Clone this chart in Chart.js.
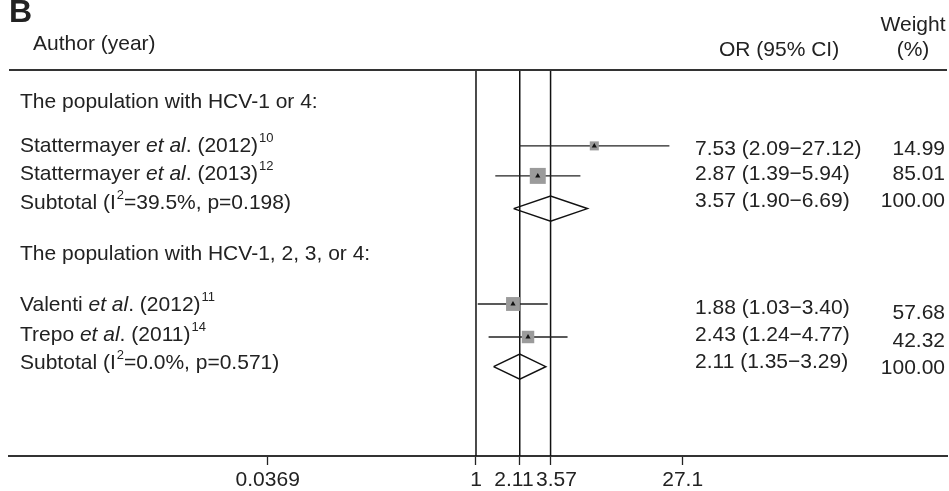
<!DOCTYPE html>
<html><head><meta charset="utf-8">
<script src="https://cdn.jsdelivr.net/npm/chart.js@4.4.0/dist/chart.umd.min.js"></script>
<style>html,body{margin:0;padding:0;background:#fff}#wrap{width:949px;height:491px}canvas{display:block}</style>
</head><body><div id="wrap"><canvas id="c" width="949" height="491"></canvas></div>
<script>
// ---------------- data ----------------
const panelLabel = 'B';
const groupTitles = ['The population with HCV-1 or 4:', 'The population with HCV-1, 2, 3, or 4:'];
const studyAuthors = ['Stattermayer', 'Stattermayer', 'Valenti', 'Trepo'];
const studyYears = ['2012', '2013', '2012', '2011'];
const studyRefs = ['10', '12', '11', '14'];
const studyOR = [7.53, 2.87, 1.88, 2.43];
const studyLower = [2.09, 1.39, 1.03, 1.24];
const studyUpper = [27.12, 5.94, 3.40, 4.77];
const studyWeight = [14.99, 85.01, 57.68, 42.32];
const subtotalI2 = ['39.5%', '0.0%'];
const subtotalP = ['0.198', '0.571'];
const subtotalOR = [3.57, 2.11];
const subtotalLower = [1.90, 1.35];
const subtotalUpper = [6.69, 3.29];
const subtotalWeight = [100.00, 100.00];
const refLines = [1, 2.11, 3.57];
const tickLabels = ['0.0369', '1', '2.11', '3.57', '27.1'];
const tickValues = [0.0286, 1, 2.11, 3.57, 34.0]; // where the reference places those labels on the OR scale

// ---------------- layout (row units, one unit = one text line) ----------------
const FONT = "'Liberation Sans', Arial, Helvetica, sans-serif";
const AREA_L = 9, AREA_R = 947;
const Y_MAX = 12.867;
const X_MIN = 3.46e-4, X_MAX = 3095;
const studyRow = [2.53, 3.53, 7.8, 8.9];
const subtotalRow = [4.62, 9.89];
const groupTitleTextRow = [1.03, 6.1];
const studyTextRow = [2.47, 3.43, 7.77, 8.77];
const subtotalTextRow = [4.4, 9.73];
const studyOrTextRow = [2.57, 3.43, 7.87, 8.8];
const subtotalOrTextRow = [4.33, 9.7];
const studyWtTextRow = [2.57, 3.43, 8.06, 8.97];
const subtotalWtTextRow = [4.33, 9.89];
const DIAMOND_H = 0.417;
const tickNudge = [0, 0, -2, 2, 0]; // label shift in spaces, to keep crowded labels apart

const boxSide = w => 4 + 1.3 * Math.sqrt(w);
const nudge = (t, n) => n < 0 ? t + ' '.repeat(-n) : ' '.repeat(n) + t;

const datasets = [];
datasets.push({type: 'scatter', data: studyOR.map((v, i) => ({x: v, y: studyRow[i]})),
  pointStyle: 'triangle', pointRadius: 3, backgroundColor: '#111', borderWidth: 0});
datasets.push({type: 'scatter', data: studyOR.map((v, i) => ({x: v, y: studyRow[i]})),
  pointStyle: 'rect', pointRadius: studyWeight.map(w => boxSide(w) / Math.SQRT2),
  backgroundColor: '#9b9b9b', borderWidth: 0});
studyOR.forEach((v, i) => datasets.push({type: 'line',
  data: [{x: studyLower[i], y: studyRow[i]}, {x: studyUpper[i], y: studyRow[i]}],
  borderColor: '#222', borderWidth: 1.3, pointRadius: 0, fill: false}));
subtotalOR.forEach((v, i) => {
  const r = subtotalRow[i];
  datasets.push({type: 'line', data: [
    {x: subtotalLower[i], y: r}, {x: v, y: r - DIAMOND_H}, {x: subtotalUpper[i], y: r},
    {x: v, y: r + DIAMOND_H}, {x: subtotalLower[i], y: r}],
    borderColor: '#111', borderWidth: 1.5, borderJoinStyle: 'miter', pointRadius: 0, fill: false, tension: 0});
});
refLines.forEach(v => datasets.push({type: 'line', data: [{x: v, y: 0}, {x: v, y: Y_MAX}],
  borderColor: '#111', borderWidth: 1.5, pointRadius: 0, fill: false}));

function drawRich(ctx, x, y, parts) {
  let cx = x;
  for (const p of parts) {
    let dy = 0;
    if (p.s === 'i') ctx.font = `italic 21px ${FONT}`;
    else if (p.s === 'sup') { ctx.font = `13px ${FONT}`; dy = -10; cx += 1; }
    else ctx.font = `21px ${FONT}`;
    ctx.fillText(p.t, cx, y + dy);
    cx += ctx.measureText(p.t).width;
  }
}

const areaPlugin = {
  id: 'fixArea',
  afterLayout(chart) {
    const a = chart.chartArea;
    a.left = AREA_L; a.right = AREA_R; a.width = AREA_R - AREA_L;
    const x = chart.scales.x;
    x.left = AREA_L; x.right = AREA_R; x.width = AREA_R - AREA_L;
    x.configure();
  }
};

const textPlugin = {
  id: 'forestText',
  afterDraw(chart) {
    const ctx = chart.ctx, ys = chart.scales.y, area = chart.chartArea;
    const base = r => ys.getPixelForValue(r) + 7.5;
    ctx.save();
    // top rule
    ctx.strokeStyle = '#333'; ctx.lineWidth = 2;
    ctx.beginPath(); ctx.moveTo(area.left, area.top); ctx.lineTo(area.right, area.top); ctx.stroke();
    ctx.fillStyle = '#222';
    ctx.textBaseline = 'alphabetic';
    ctx.textAlign = 'left';
    ctx.font = `bold 32px ${FONT}`;
    ctx.fillText(panelLabel, 9, 21.5);
    ctx.font = `21px ${FONT}`;
    ctx.fillText('Author (year)', 33, 49.5);
    ctx.fillText('OR (95% CI)', 719, 56);
    ctx.textAlign = 'center';
    ctx.fillText('Weight', 913, 31);
    ctx.fillText('(%)', 913, 56);
    ctx.textAlign = 'left';
    groupTitles.forEach((t, g) => { ctx.font = `21px ${FONT}`; ctx.fillText(t, 20, base(groupTitleTextRow[g])); });
    studyAuthors.forEach((a, i) => {
      drawRich(ctx, 20, base(studyTextRow[i]), [
        {t: a + ' '}, {t: 'et al', s: 'i'}, {t: '. (' + studyYears[i] + ')'}, {t: studyRefs[i], s: 'sup'}]);
    });
    subtotalOR.forEach((v, g) => {
      drawRich(ctx, 20, base(subtotalTextRow[g]), [
        {t: 'Subtotal (I'}, {t: '2', s: 'sup'}, {t: '=' + subtotalI2[g] + ', p=' + subtotalP[g] + ')'}]);
    });
    ctx.font = `21px ${FONT}`;
    const ciText = (o, l, u) => `${o.toFixed(2)} (${l.toFixed(2)}\u2212${u.toFixed(2)})`;
    studyOR.forEach((v, i) => ctx.fillText(ciText(v, studyLower[i], studyUpper[i]), 695, base(studyOrTextRow[i])));
    subtotalOR.forEach((v, g) => ctx.fillText(ciText(v, subtotalLower[g], subtotalUpper[g]), 695, base(subtotalOrTextRow[g])));
    ctx.textAlign = 'right';
    studyWeight.forEach((w, i) => ctx.fillText(w.toFixed(2), 945, base(studyWtTextRow[i])));
    subtotalWeight.forEach((w, g) => ctx.fillText(w.toFixed(2), 945, base(subtotalWtTextRow[g])));
    ctx.restore();
  }
};

new Chart(document.getElementById('c'), {
  data: {datasets},
  plugins: [areaPlugin, textPlugin],
  options: {
    responsive: false, animation: false, events: [],
    layout: {padding: {left: AREA_L, right: 949 - AREA_R, top: 70, bottom: 0}},
    plugins: {legend: {display: false}, tooltip: {enabled: false}},
    scales: {
      x: {type: 'logarithmic', min: X_MIN, max: X_MAX, bounds: 'data', position: 'bottom',
        afterBuildTicks: s => { s.ticks = tickValues.map(v => ({value: v})); },
        afterFit: s => { s.height = 35; s.paddingLeft = 0; s.paddingRight = 0; },
        ticks: {autoSkip: false, maxRotation: 0, minRotation: 0, padding: 5, color: '#222',
          font: {family: FONT, size: 21, lineHeight: 1},
          callback: (v, i) => nudge(tickLabels[i], tickNudge[i])},
        grid: {display: true, drawOnChartArea: false, drawTicks: true, tickLength: 9,
          tickColor: '#222', tickWidth: 1.3, color: '#222'},
        border: {display: true, color: '#333', width: 2}},
      y: {type: 'linear', display: false, min: 0, max: Y_MAX, reverse: true}
    }
  }
});
</script></body></html>
